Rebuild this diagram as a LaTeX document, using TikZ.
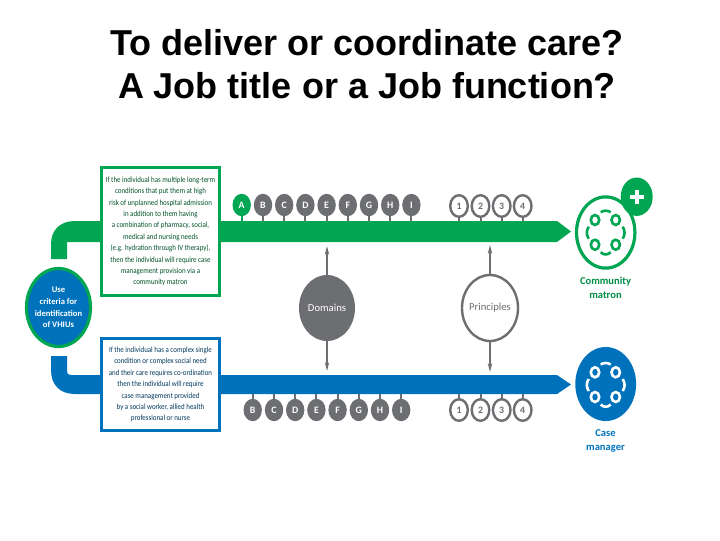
\documentclass[tikz,border=0pt]{standalone}
\usepackage{fontspec}
\setmainfont{Carlito}
\newfontfamily\titlefont{Liberation Sans}
\newfontfamily\boxfont[FakeStretch=0.88]{Carlito}
\usetikzlibrary{shapes.geometric}
\usetikzlibrary{arrows.meta}
\definecolor{greenc}{HTML}{00A651}
\definecolor{bluec}{HTML}{0072BC}
\definecolor{greyc}{HTML}{6D6E71}
\tikzset{
    letter/.style={ellipse,fill=greyc,text=white,inner sep=0pt,minimum width=.46cm,minimum height=.56cm,font=\fontsize{7}{7}\selectfont\bfseries},
    number/.style={ellipse,draw=greyc,line width=.06cm,fill=white,text=greyc,inner sep=0pt,minimum width=.44cm,minimum height=.54cm,font=\fontsize{7}{7}\selectfont\bfseries},
    stem/.style={draw=greyc,line width=.05cm},
    textbox/.style={draw,line width=.075cm,fill=white,align=center,inner sep=0pt,minimum width=2.95cm,minimum height=1cm,font=\fontsize{5.6}{8.1}\boxfont},
    bigcircle/.style={ellipse,inner sep=-2pt,minimum width=1.4cm,minimum height=1.65cm,font=\fontsize{7.6}{8}\selectfont},
    pointer/.style={draw=greyc,line width=.055cm,-{Stealth[length=.22cm,width=.11cm]}},
    rolename/.style={align=center,font=\fontsize{7.5}{9.9}\selectfont\bfseries}
}
% rings and dashes inside a role circle
\newcommand{\teamicon}[3]{
    \begin{scope}[shift={(#1,#2)},draw=#3,line width=.065cm]
        \draw (-10.7,-11.7) ellipse [x radius=4.2,y radius=5];
        \draw (10,-11.7) ellipse [x radius=4.2,y radius=5];
        \draw (-10.7,13) ellipse [x radius=4.2,y radius=5];
        \draw (10,13) ellipse [x radius=4.2,y radius=5];
        \draw (-5,-19.5) .. controls (-2,-21.5) and (2,-21.5) .. (5,-19.5);
        \draw (-5,20.5) .. controls (-2,23.5) and (2,23.5) .. (5,20.5);
        \draw (-17,-5) .. controls (-19.5,-1) and (-19.5,3) .. (-17,7);
        \draw (17,-5) .. controls (19.5,-1) and (19.5,3) .. (17,7);
    \end{scope}
}
\begin{document}
\begin{tikzpicture}[x=.025cm,y=-.025cm]
    \useasboundingbox (0,0) rectangle (720,540);

    \node[font=\fontsize{25.6}{30.6}\selectfont\titlefont\bfseries,align=center] (title) at (367,64.5) {To deliver or coordinate care?\\A Job title or a Job function?};

    % the two bars
    \fill[greenc] (51,259) -- (67,259) -- (67,242) -- (557,242) -- (571,231.5) -- (557,221) -- (75,221) .. controls (60,221) and (51,230) .. (51,244) -- cycle;
    \fill[bluec] (51,356) -- (67,356) -- (67,371) .. controls (67,374) and (68,375) .. (71,375) -- (557,375) -- (571,384.5) -- (557,394) -- (75,394) .. controls (60,394) and (51,385) .. (51,370) -- cycle;
    \coordinate (greenbar) at (0,221);
    \coordinate (bluebar) at (0,394);

    \node[textbox,draw=greenc,text=greenc!50!black,minimum height=3.2cm] (greenbox) at (160.5,231.5) {If the individual has multiple long-term\\conditions that put them at high\\risk of unplanned hospital admission\\in addition to them having\\a combination of pharmacy, social,\\medical and nursing needs\\(e.g. hydration through IV therapy),\\then the individual will require case\\management provision via a\\community matron};
    \node[textbox,draw=bluec,text=bluec!50!black,minimum height=2.3cm] (bluebox) at (160.5,384.5) {If the individual has a complex single\\condition or complex social need\\and their care requires co-ordination\\then the individual will require\\case management provided\\by a social worker, allied health\\professional or nurse};

    \node[ellipse,draw=greenc,line width=.08cm,fill=bluec,text=white,inner sep=-2pt,minimum width=1.6cm,minimum height=1.95cm,align=center,font=\fontsize{6.1}{8.2}\selectfont\bfseries] (criteria) at (58.5,307.5) {Use\\criteria for\\identification\\of VHIUs};

    % top row
    \node[letter,fill=greenc] (topA) at (241.7,205) {A};
    \node[letter] (topB) at (263,205) {B};
    \node[letter] (topC) at (284.2,205) {C};
    \node[letter] (topD) at (305.4,205) {D};
    \node[letter] (topE) at (326.6,205) {E};
    \node[letter] (topF) at (347.8,205) {F};
    \node[letter] (topG) at (369,205) {G};
    \node[letter] (topH) at (390.2,205) {H};
    \node[letter] (topI) at (411.4,205) {I};
    \node[number] (top1) at (459,206) {1};
    \node[number] (top2) at (480.5,206) {2};
    \node[number] (top3) at (501.7,206) {3};
    \node[number] (top4) at (522.7,206) {4};
    \draw[stem,draw=greenc] (topA) -- (topA|-greenbar);
    \draw[stem] (topB) -- (topB|-greenbar) (topC) -- (topC|-greenbar) (topD) -- (topD|-greenbar) (topE) -- (topE|-greenbar) (topF) -- (topF|-greenbar) (topG) -- (topG|-greenbar) (topH) -- (topH|-greenbar) (topI) -- (topI|-greenbar);
    \draw[stem] (top1) -- (top1|-greenbar) (top2) -- (top2|-greenbar) (top3) -- (top3|-greenbar) (top4) -- (top4|-greenbar);

    % bottom row
    \node[letter] (lowB) at (252.7,410) {B};
    \node[letter] (lowC) at (274,410) {C};
    \node[letter] (lowD) at (295.2,410) {D};
    \node[letter] (lowE) at (316.4,410) {E};
    \node[letter] (lowF) at (337.6,410) {F};
    \node[letter] (lowG) at (358.8,410) {G};
    \node[letter] (lowH) at (380,410) {H};
    \node[letter] (lowI) at (401.2,410) {I};
    \node[number] (low1) at (459,410) {1};
    \node[number] (low2) at (480.5,410) {2};
    \node[number] (low3) at (501.7,410) {3};
    \node[number] (low4) at (522.7,410) {4};
    \draw[stem] (lowB) -- (lowB|-bluebar) (lowC) -- (lowC|-bluebar) (lowD) -- (lowD|-bluebar) (lowE) -- (lowE|-bluebar) (lowF) -- (lowF|-bluebar) (lowG) -- (lowG|-bluebar) (lowH) -- (lowH|-bluebar) (lowI) -- (lowI|-bluebar);
    \draw[stem] (low1) -- (low1|-bluebar) (low2) -- (low2|-bluebar) (low3) -- (low3|-bluebar) (low4) -- (low4|-bluebar);

    % domains and principles
    \node[bigcircle,fill=greyc,text=white] (domains) at (327,308) {Domains};
    \node[bigcircle,draw=greyc,line width=.06cm,fill=white,text=greyc] (principles) at (490,308) {Principles};
    \coordinate (domainsup) at (327,246);
    \coordinate (domainsdown) at (327,371);
    \coordinate (principlesup) at (490,245);
    \coordinate (principlesdown) at (490,372);
    \draw[pointer] (domains) -- (domainsup);
    \draw[pointer] (domains) -- (domainsdown);
    \draw[pointer] (principles) -- (principlesup);
    \draw[pointer] (principles) -- (principlesdown);

    % the two roles
    \node[ellipse,draw=greenc,line width=.08cm,fill=white,inner sep=0pt,minimum width=1.46cm,minimum height=1.78cm] (matron) at (605.7,232.5) {};
    \node[ellipse,fill=greenc,inner sep=0pt,minimum width=.8cm,minimum height=.96cm] (badge) at (636.7,196.7) {};
    \draw[white,line width=.1cm] (636.7,190.3) -- (636.7,204.3) (629.7,197.3) -- (643.7,197.3);
    \teamicon{605.7}{231.7}{greenc}
    \node[rolename,text=greenc!85!black] (matronname) at (605.5,287.5) {Community\\matron};

    \node[ellipse,fill=bluec,inner sep=0pt,minimum width=1.52cm,minimum height=1.85cm] (manager) at (605.7,384) {};
    \teamicon{605.7}{384}{white}
    \node[rolename,text=bluec] (managername) at (605.5,441) {Case\\manager};
\end{tikzpicture}
\end{document}
